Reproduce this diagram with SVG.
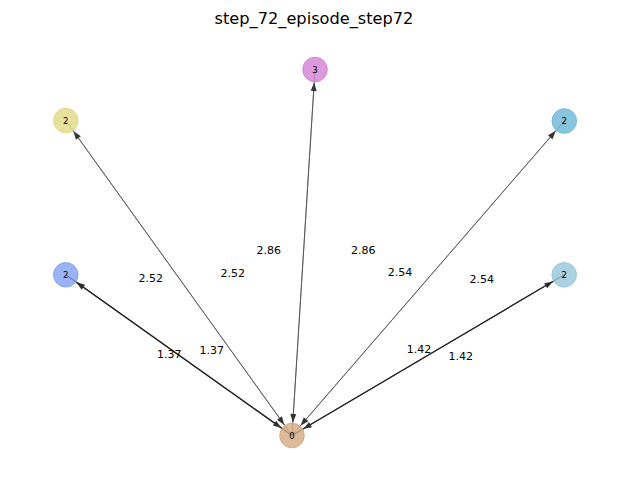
<svg xmlns="http://www.w3.org/2000/svg" width="630" height="488" viewBox="0 0 630 488">
<style>
text{font-family:"DejaVu Sans","Liberation Sans",sans-serif;fill:#000}
.title{font-size:16.2px;text-anchor:middle}
.el{font-size:11px;text-anchor:middle}
.nl{font-size:8.5px;text-anchor:middle}
.thin{stroke:#444;stroke-width:0.7;fill:none}
.thick{stroke:#222;stroke-width:1.1;fill:none}
circle{fill-opacity:0.78;stroke-opacity:0.85;stroke-width:1}
</style>
<defs>
<marker id="ah" markerUnits="userSpaceOnUse" markerWidth="10" markerHeight="8" viewBox="0 0 10 8" refX="9" refY="4" orient="auto">
<path d="M0.5,1 L9,4 L0.5,7 Z" fill="#333"/>
</marker>
</defs>
<rect width="630" height="488" fill="#fff"/>
<text class="title" x="314" y="23.5">step_72_episode_step72</text>
<g id="edges">
<line class="thin" x1="292" y1="435.5" x2="73.4" y2="131.1" marker-end="url(#ah)"/>
<line class="thin" x1="65.8" y1="120.5" x2="284.4" y2="424.9" marker-end="url(#ah)"/>
<line class="thin" x1="292" y1="435.5" x2="314.2" y2="82.5" marker-end="url(#ah)"/>
<line class="thin" x1="315" y1="69.5" x2="292.8" y2="422.5" marker-end="url(#ah)"/>
<line class="thin" x1="292" y1="435.5" x2="555.8" y2="130.8" marker-end="url(#ah)"/>
<line class="thin" x1="564.3" y1="121" x2="300.5" y2="425.7" marker-end="url(#ah)"/>
<line class="thick" x1="292" y1="435.5" x2="76.4" y2="282.3" marker-end="url(#ah)"/>
<line class="thick" x1="65.8" y1="274.8" x2="281.4" y2="428" marker-end="url(#ah)"/>
<line class="thick" x1="292" y1="435.5" x2="553" y2="281.4" marker-end="url(#ah)"/>
<line class="thick" x1="564.2" y1="274.8" x2="303.2" y2="428.9" marker-end="url(#ah)"/>
</g>
<g id="edge-labels">
<text class="el" x="150.7" y="282.3">2.52</text>
<text class="el" x="232.7" y="277.3">2.52</text>
<text class="el" x="268.7" y="254">2.86</text>
<text class="el" x="363.3" y="254">2.86</text>
<text class="el" x="400" y="276.3">2.54</text>
<text class="el" x="481.7" y="283">2.54</text>
<text class="el" x="169.3" y="358.3">1.37</text>
<text class="el" x="211.7" y="354">1.37</text>
<text class="el" x="419" y="353">1.42</text>
<text class="el" x="460.7" y="360">1.42</text>
</g>
<g id="node-0"><circle cx="292" cy="435.5" r="12.3" fill="#d4a67c" stroke="#d4a67c"/><text class="nl" x="292" y="438.5">0</text></g>
<g id="node-3"><circle cx="315" cy="69.5" r="12.3" fill="#d37cd3" stroke="#d37cd3"/><text class="nl" x="315" y="72.5">3</text></g>
<g id="node-2-yellow"><circle cx="65.8" cy="120.5" r="12.3" fill="#e2d881" stroke="#e2d881"/><text class="nl" x="65.8" y="123.5">2</text></g>
<g id="node-2-cyan"><circle cx="564.3" cy="121" r="12.3" fill="#68b5d6" stroke="#68b5d6"/><text class="nl" x="564.3" y="124">2</text></g>
<g id="node-2-blue"><circle cx="65.8" cy="274.8" r="12.3" fill="#7d9ef1" stroke="#7d9ef1"/><text class="nl" x="65.8" y="277.8">2</text></g>
<g id="node-2-lightblue"><circle cx="564.2" cy="274.8" r="12.3" fill="#94c4db" stroke="#94c4db"/><text class="nl" x="564.2" y="277.8">2</text></g>
</svg>
